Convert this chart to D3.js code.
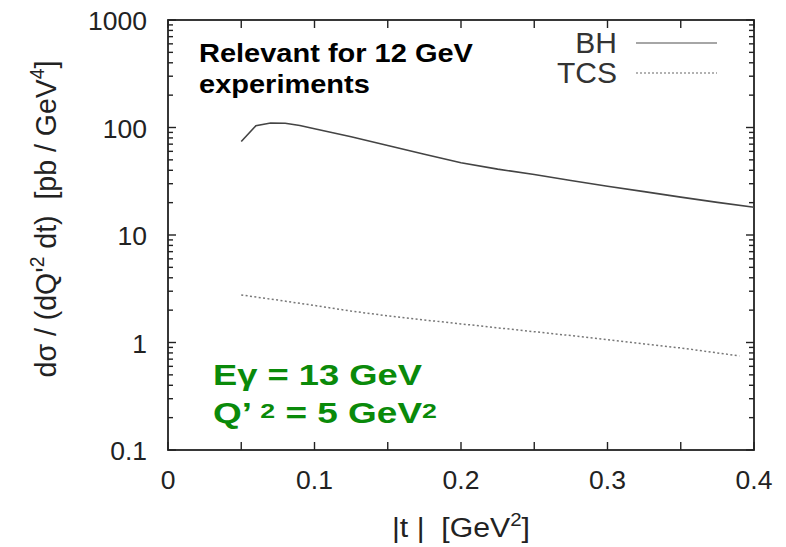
<!DOCTYPE html>
<html>
<head>
<meta charset="utf-8">
<script src="https://cdn.jsdelivr.net/npm/d3@7"></script>
<style>
  html, body { margin: 0; padding: 0; background: #fff; }
  svg { display: block; font-family: "Liberation Sans", Arial, Helvetica, sans-serif; }
  svg text { white-space: pre; }
</style>
</head>
<body>
<svg id="chart" width="786" height="547"></svg>
<script>
// |t| values (GeV^2) and cross sections (pb/GeV^4) for the two processes
const tBH = [0.05, 0.06, 0.07, 0.08, 0.09, 0.10, 0.125, 0.15, 0.175, 0.20, 0.225, 0.25, 0.275, 0.30, 0.325, 0.35, 0.375, 0.40];
const sigmaBH = [74, 104, 110, 109.5, 104.5, 97.5, 82, 68, 56.5, 47, 41, 36.5, 32.1, 28.4, 25.3, 22.5, 20.1, 18.1];

const tTCS = [0.05, 0.075, 0.10, 0.125, 0.15, 0.175, 0.20, 0.225, 0.25, 0.275, 0.30, 0.325, 0.35, 0.375, 0.39];
const sigmaTCS = [2.77, 2.48, 2.21, 1.96, 1.77, 1.62, 1.49, 1.37, 1.26, 1.16, 1.06, 0.97, 0.89, 0.80, 0.75];

const xTickValues = [0, 0.1, 0.2, 0.3, 0.4];
const xMinorTickValues = [0.05, 0.15, 0.25, 0.35];
const yTickValues = [0.1, 1, 10, 100, 1000];
const yTickLabels = ["0.1", "1", "10", "100", "1000"];

const seriesNames = ["BH", "TCS"];

const svg = d3.select("#chart");
const L = 168, R = 754, T = 20, B = 450;

const x = d3.scaleLinear().domain([0, 0.4]).range([L, R]);
const y = d3.scaleLog().domain([0.1, 1000]).range([B, T]);

const ink = "#222";

// stretch a text element horizontally so it spans the given width
function fitWidth(sel, tx, ty, width) {
  const w = sel.node().getComputedTextLength();
  sel.attr("transform", `translate(${tx},${ty}) scale(${width / w},1)`);
}

// minor decade ticks for the log axis
const yMinor = [];
for (let d = -1; d < 3; d++) for (let k = 2; k <= 9; k++) yMinor.push(k * Math.pow(10, d));

const axes = svg.append("g");

// inward ticks on all four sides
const tickG = axes.append("g").attr("stroke", ink).attr("stroke-width", 1.4);
const xMajor = xTickValues.concat(xMinorTickValues);
xMajor.forEach(v => {
  tickG.append("line").attr("x1", x(v)).attr("x2", x(v)).attr("y1", B).attr("y2", B - 8);
  tickG.append("line").attr("x1", x(v)).attr("x2", x(v)).attr("y1", T).attr("y2", T + 8);
});
yTickValues.forEach(v => {
  tickG.append("line").attr("x1", L).attr("x2", L + 8).attr("y1", y(v)).attr("y2", y(v));
  tickG.append("line").attr("x1", R).attr("x2", R - 8).attr("y1", y(v)).attr("y2", y(v));
});
yMinor.forEach(v => {
  tickG.append("line").attr("x1", L).attr("x2", L + 5).attr("y1", y(v)).attr("y2", y(v));
  tickG.append("line").attr("x1", R).attr("x2", R - 5).attr("y1", y(v)).attr("y2", y(v));
});

// frame
axes.append("rect")
  .attr("x", L).attr("y", T).attr("width", R - L).attr("height", B - T)
  .attr("fill", "none").attr("stroke", ink).attr("stroke-width", 1.8);

// tick labels
const tickFont = 26.5;
axes.append("g").selectAll("text").data(xTickValues).join("text")
  .attr("x", d => x(d)).attr("y", 489)
  .attr("text-anchor", "middle").attr("fill", ink)
  .attr("font-size", tickFont)
  .text(d => d === 0 ? "0" : d3.format(".1f")(d));

axes.append("g").selectAll("text").data(yTickValues).join("text")
  .attr("x", 147).attr("y", d => y(d) + 10)
  .attr("text-anchor", "end").attr("fill", ink)
  .attr("font-size", tickFont)
  .text((d, i) => yTickLabels[i]);

// axis titles
const xTitle = svg.append("text")
  .attr("text-anchor", "start").attr("fill", ink).attr("font-size", 28);
xTitle.append("tspan").text("|t |  [GeV");
xTitle.append("tspan").attr("font-size", 19).attr("dy", -11).text("2");
xTitle.append("tspan").attr("dy", 11).text("]");
fitWidth(xTitle, 392, 537, 138);

const yTitle = svg.append("text")
  .attr("text-anchor", "middle").attr("fill", ink).attr("font-size", 28);
yTitle.append("tspan").text("dσ / (dQ'");
yTitle.append("tspan").attr("font-size", 19).attr("dy", -11).text("2");
yTitle.append("tspan").attr("dy", 11).text(" dt)  [pb / GeV");
yTitle.append("tspan").attr("font-size", 19).attr("dy", -11).text("4");
yTitle.append("tspan").attr("dy", 11).text("]");
{
  const w = yTitle.node().getComputedTextLength();
  yTitle.attr("transform", `translate(56,219) scale(1.08,${317 / w}) rotate(-90)`);
}

// curves
const line = d3.line().x(d => x(d[0])).y(d => y(d[1]));
const bhData = tBH.map((t, i) => [t, sigmaBH[i]]);
const tcsData = tTCS.map((t, i) => [t, sigmaTCS[i]]);

svg.append("path").datum(bhData).attr("d", line)
  .attr("fill", "none").attr("stroke", "#444").attr("stroke-width", 1.6);
svg.append("path").datum(tcsData).attr("d", line)
  .attr("fill", "none").attr("stroke", "#777").attr("stroke-width", 1.5)
  .attr("stroke-dasharray", "2,2.4");

// legend
const legend = svg.append("g");
const legendRows = [
  { name: seriesNames[0], y: 53, stroke: "#888", dash: null, w: 1.6 },
  { name: seriesNames[1], y: 83, stroke: "#999", dash: "2,2", w: 1.5 }
];
legendRows.forEach(r => {
  legend.append("text").attr("x", 617).attr("y", r.y)
    .attr("text-anchor", "end").attr("fill", "#333").attr("font-size", 30)
    .text(r.name);
  legend.append("line").attr("x1", 636).attr("x2", 717)
    .attr("y1", r.y - 10).attr("y2", r.y - 10)
    .attr("stroke", r.stroke).attr("stroke-width", r.w)
    .attr("stroke-dasharray", r.dash);
});

// annotations
const note1 = svg.append("text").attr("font-weight", "bold").attr("font-size", 25.5)
  .attr("fill", "#000").text("Relevant for 12 GeV");
fitWidth(note1, 199, 61.5, 274);
const note2 = svg.append("text").attr("font-weight", "bold").attr("font-size", 25.5)
  .attr("fill", "#000").text("experiments");
fitWidth(note2, 199, 93, 171);

const green = "#0a8a0a";
const kin1 = svg.append("text").attr("font-weight", "bold").attr("font-size", 29)
  .attr("fill", green).text("Eγ = 13 GeV");
fitWidth(kin1, 213, 385, 209);

const kin2 = svg.append("text").attr("font-weight", "bold").attr("font-size", 29)
  .attr("fill", green);
kin2.append("tspan").text("Q’ ");
kin2.append("tspan").attr("font-size", 21).attr("dy", -5).text("2");
kin2.append("tspan").attr("dy", 5).text(" = 5 GeV");
kin2.append("tspan").attr("font-size", 21).attr("dy", -5).text("2");
fitWidth(kin2, 213, 423, 224);
</script>
</body>
</html>
